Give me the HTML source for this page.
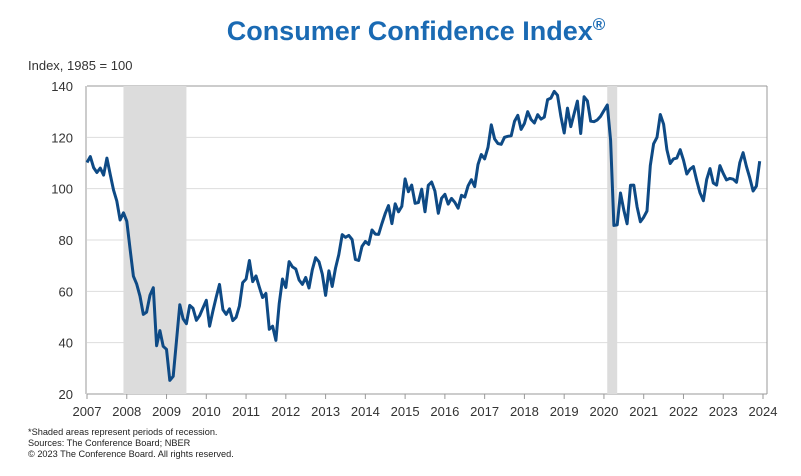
<!DOCTYPE html>
<html><head><meta charset="utf-8"><style>
body{margin:0;background:#fff;width:801px;height:471px;overflow:hidden;font-family:"Liberation Sans",sans-serif;}
</style></head><body>
<svg width="801" height="471" font-family="Liberation Sans, sans-serif">
<text x="416" y="40" text-anchor="middle" font-size="27" font-weight="bold" fill="#1a6ab3">Consumer Confidence Index<tspan font-size="17" dy="-10">®</tspan></text>
<text x="28" y="70" font-size="13" fill="#333">Index, 1985 = 100</text>
<g id="grid"></g>
<g id="shade"></g>
<g id="axes"></g>
<path id="line" fill="none" stroke="#0e4a85" stroke-width="3" stroke-linejoin="round"/>
<text x="28" y="435" font-size="9.2" fill="#222">*Shaded areas represent periods of recession.</text>
<text x="28" y="446" font-size="9.2" fill="#222">Sources: The Conference Board; NBER</text>
<text x="28" y="457" font-size="9.2" fill="#222">© 2023 The Conference Board. All rights reserved.</text>
</svg>
<script>
const yTicks=[20,40,60,80,100,120,140];
const xYears=[2007,2008,2009,2010,2011,2012,2013,2014,2015,2016,2017,2018,2019,2020,2021,2022,2023,2024];
const recessions=[[2007.917,2009.5],[2020.083,2020.333]];
const cci=[110.2,112.5,108.2,106.3,108.0,105.3,111.9,105.6,99.5,95.2,87.8,90.6,
87.3,76.4,65.9,62.8,58.1,51.0,51.9,58.5,61.4,38.8,44.7,38.6,
37.4,25.3,26.9,40.8,54.8,49.3,47.4,54.5,53.4,48.7,50.6,53.6,
56.5,46.4,52.3,57.7,62.7,52.9,51.0,53.2,48.6,49.9,54.3,63.4,
64.8,72.0,63.8,66.0,61.7,57.6,59.2,45.2,46.4,40.9,55.2,64.8,
61.5,71.6,69.5,68.7,64.4,62.7,65.4,61.3,68.4,73.1,71.5,66.7,
58.4,68.0,61.9,69.0,74.3,82.1,81.0,81.8,80.2,72.4,72.0,77.5,
79.4,78.3,83.9,82.3,82.2,86.4,90.3,93.4,86.4,94.1,91.0,93.1,
103.8,98.8,101.4,94.3,94.6,99.8,91.0,101.3,102.6,99.1,90.4,96.3,
97.8,94.0,96.2,94.7,92.4,97.4,96.7,101.1,103.5,100.8,109.4,113.3,
111.6,116.1,124.9,119.4,117.6,117.3,120.0,120.4,120.6,126.2,128.6,123.1,
125.4,130.0,127.0,125.6,128.8,127.1,127.9,134.7,135.3,137.9,136.4,128.1,
121.7,131.4,124.2,129.2,134.1,121.5,135.8,134.2,126.3,126.1,126.8,128.2,
130.4,132.6,118.8,85.7,85.9,98.3,91.7,86.3,101.3,101.4,92.9,87.1,
88.9,91.3,109.0,117.5,120.0,128.9,125.1,115.2,109.8,111.6,111.9,115.2,
111.1,105.7,107.6,108.6,103.2,98.4,95.3,103.6,107.8,102.2,101.4,109.0,
106.0,103.4,104.0,103.7,102.5,110.1,114.0,108.7,104.3,99.1,101.0,110.7];
const startYear=2007;
const X0=87,X1=763,Y0=394,Y1=86;
const xs=t=>X0+(t-2007)*(X1-X0)/17;
const ys=v=>Y0-(v-20)*(Y0-Y1)/120;
const NS="http://www.w3.org/2000/svg";
function mk(tag,attrs,parent){const e=document.createElementNS(NS,tag);for(const k in attrs)e.setAttribute(k,attrs[k]);document.getElementById(parent).appendChild(e);return e;}
yTicks.forEach(v=>{
 const l=mk('line',{x1:X0,x2:X1+4,y1:ys(v),y2:ys(v),stroke:v===20?'#999':(v===140?'#999':'#ddd'),'stroke-width':1},'grid');
 
 
 const t=mk('text',{x:73,y:ys(v)+5,'text-anchor':'end','font-size':13,fill:'#333'},'axes');t.textContent=v;
 
 
});
recessions.forEach(r=>{
 const s=mk('rect',{x:xs(r[0]),y:Y1,width:xs(r[1])-xs(r[0]),height:Y0-Y1,fill:'#dcdcdc'},'shade');
 
 
});
mk('line',{x1:X0-1,x2:X0-1,y1:Y1,y2:Y0,stroke:'#999'},'axes');
mk('line',{x1:X1+4,x2:X1+4,y1:Y1,y2:Y0,stroke:'#999'},'axes');
xYears.forEach(y=>{
 mk('line',{x1:xs(y),x2:xs(y),y1:Y0,y2:Y0+5,stroke:'#999'},'axes');
 const t=mk('text',{x:xs(y),y:416,'text-anchor':'middle','font-size':13,fill:'#333'},'axes');t.textContent=y;
 
 
});
let d='';cci.forEach((v,i)=>{d+=(i?'L':'M')+xs(startYear+i/12).toFixed(1)+' '+ys(v).toFixed(1);});
document.getElementById('line').setAttribute('d',d);
</script>
</body></html>
